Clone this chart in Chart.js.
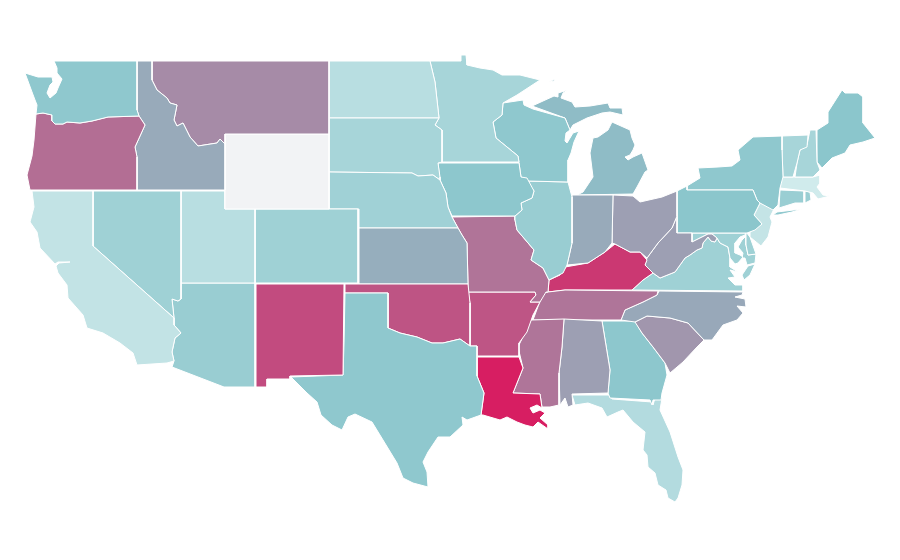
<!DOCTYPE html>
<html><head><meta charset="utf-8">
<script src="https://cdn.jsdelivr.net/npm/chart.js@4"></script>
<style>html,body{margin:0;background:#fff}canvas{display:block}</style></head>
<body><canvas id="c" width="900" height="560"></canvas>
<script>
// State outlines in map units, and each state's value on a 0-100 scale
const WA=[[54,61],[137,61],[137,110],[139,116],[108,117],[92,121],[80,123],[67,122],[63,124],[55,124],[52,121],[52,115],[43,113],[36,114],[37,105],[35,100],[32,92],[25,73],[38,77],[45,77],[52,77],[53,82],[50,85],[47,93],[50,98],[56,93],[58,88],[62,79],[57,73],[57,68]];
const OR=[[36,114],[43,113],[52,115],[52,121],[55,124],[63,124],[67,122],[80,123],[92,121],[108,117],[139,116],[145,125],[135,147],[137,157],[137,190],[30,190],[27,175],[32,156],[34,140]];
const ID=[[137,61],[152,61],[152,80],[157,90],[167,98],[170,103],[177,105],[174,120],[177,126],[183,123],[190,137],[198,146],[217,143],[220,139],[225,144],[225,190],[137,190],[137,157],[135,147],[145,125],[139,116],[137,110]];
const MT=[[152,61],[329,61],[329,134],[225,134],[225,144],[220,139],[217,143],[198,146],[190,137],[183,123],[177,126],[174,120],[177,105],[170,103],[167,98],[157,90],[152,80]];
const WY=[[225,134],[329,134],[329,209],[225,209]];
const CA=[[32,191],[93,191],[93,246],[174,318],[174,325],[181,333],[175,338],[172,352],[174,361],[167,363],[137,365],[133,353],[120,343],[103,333],[87,328],[83,315],[68,298],[67,285],[58,273],[56,266],[59,263],[70,262],[58,262],[55,264],[40,248],[37,232],[30,222],[34,207]];
const NV=[[93,191],[181,191],[181,283],[181,299],[178,301],[172,299],[174,318],[93,246]];
const UT=[[181,191],[225,191],[225,209],[255,209],[255,283],[181,283]];
const CO=[[255,209],[358,209],[358,283],[255,283]];
const AZ=[[181,283],[255,283],[255,387],[224,387],[172,367],[174,361],[172,352],[175,338],[181,333],[174,325],[174,318],[172,299],[178,301],[181,299]];
const NM=[[256,284],[344,284],[343,375],[290,376],[290,379],[267,379],[267,387],[256,387]];
const TX=[[345,293],[388,293],[388,328],[400,333],[417,337],[432,343],[443,343],[460,339],[470,346],[477,346],[477,376],[484,393],[481,415],[467,420],[462,417],[463,425],[450,437],[438,437],[428,452],[423,462],[427,472],[428,487],[413,483],[403,478],[397,463],[383,440],[372,422],[355,414],[348,417],[342,430],[332,425],[321,415],[317,402],[307,393],[291,377],[343,375],[344,343]];
const OK=[[345,284],[468,284],[470,303],[470,343],[470,346],[460,339],[443,343],[432,343],[417,337],[400,333],[388,328],[388,293],[345,293]];
const KS=[[359,228],[458,228],[462,235],[467,243],[468,284],[359,284]];
const NE=[[329,172],[412,173],[418,176],[433,175],[440,180],[446,193],[448,207],[452,217],[458,228],[359,228],[359,209],[329,209]];
const SD=[[329,118],[439,118],[435,125],[442,130],[442,162],[438,163],[440,177],[440,180],[433,175],[418,176],[412,173],[329,172]];
const ND=[[329,61],[430,61],[435,82],[437,100],[439,118],[329,118]];
const MN=[[430,61],[461,61],[461,55],[466,55],[467,65],[480,68],[493,70],[502,75],[520,75],[540,80],[517,95],[503,103],[502,115],[493,122],[496,138],[507,147],[518,156],[519,162],[442,162],[442,130],[435,125],[439,118],[437,100],[435,82]];
const IA=[[442,163],[519,163],[521,177],[527,178],[534,191],[532,198],[521,203],[522,210],[515,216],[452,216],[448,207],[446,193],[440,180],[438,163]];
const WI=[[503,103],[523,100],[524,105],[533,109],[565,118],[570,130],[566,133],[565,141],[567,143],[573,133],[579,131],[574,142],[571,153],[568,160],[568,182],[527,181],[521,177],[518,156],[507,147],[496,138],[493,122],[502,115]];
const IL=[[527,181],[568,182],[572,197],[572,243],[567,265],[563,273],[549,280],[543,268],[531,260],[534,250],[517,230],[515,220],[515,216],[522,210],[521,203],[532,198],[534,191]];
const IN=[[572,195],[613,195],[612,243],[605,252],[588,263],[567,265],[572,243]];
const OH=[[613,195],[633,196],[640,202],[662,197],[677,191],[677,216],[672,228],[658,243],[647,258],[640,252],[630,252],[615,244],[612,243]];
const MIL=[[577,195],[633,194],[637,187],[645,172],[648,170],[642,153],[633,157],[628,160],[625,157],[630,155],[633,150],[635,145],[632,138],[630,130],[612,122],[608,130],[598,137],[593,138],[590,153],[593,177],[583,192]];
const MIU=[[532,106],[554,96],[558,97],[558,93],[568,90],[563,93],[561,98],[572,102],[575,107],[590,106],[608,103],[610,108],[622,108],[623,115],[610,112],[602,113],[587,118],[573,125],[570,130],[565,118]];
const MIR=[[549,82],[555,79],[554,81]];
const MO=[[452,217],[515,216],[515,220],[517,230],[534,250],[531,260],[543,268],[549,280],[548,292],[546,292],[540,302],[530,302],[536,295],[535,292],[468,292],[468,284],[467,243],[462,235],[458,228]];
const AR=[[468,292],[535,292],[536,295],[530,302],[540,302],[533,315],[527,332],[519,343],[519,356],[477,356],[477,346],[470,346],[470,303]];
const LA=[[477,357],[519,357],[523,368],[513,393],[540,394],[542,408],[537,405],[530,408],[533,413],[540,410],[545,413],[540,418],[548,425],[548,429],[538,422],[533,427],[525,425],[517,422],[507,417],[500,420],[483,415],[481,415],[484,393],[477,376]];
const MS=[[531,320],[564,319],[562,347],[559,373],[559,405],[550,407],[542,407],[540,394],[513,393],[523,368],[518,347]];
const AL=[[564,319],[602,321],[610,370],[608,393],[572,394],[573,405],[568,407],[565,398],[560,405],[559,373],[562,347]];
const TN=[[533,320],[543,293],[548,292],[565,290],[658,291],[657,295],[643,302],[625,310],[621,320],[580,320]];
const KY=[[548,292],[549,280],[560,275],[565,267],[588,263],[605,252],[615,244],[630,252],[640,252],[647,260],[645,265],[653,273],[643,280],[632,290],[565,290]];
const WV=[[677,216],[677,233],[692,233],[692,242],[702,237],[708,234],[712,234],[717,238],[715,242],[711,241],[708,237],[703,243],[702,248],[697,250],[690,255],[685,258],[675,272],[660,278],[653,273],[645,265],[647,258],[658,243],[672,228]];
const PA=[[677,191],[687,186],[687,190],[753,190],[757,200],[760,203],[754,215],[762,224],[755,230],[747,233],[677,233]];
const NY=[[687,186],[700,178],[698,168],[718,167],[732,166],[740,160],[738,150],[753,137],[782,136],[782,150],[783,177],[780,188],[778,205],[773,210],[760,203],[757,200],[753,190],[687,190]];
const NYL=[[773,215],[777,212],[802,209],[792,212],[778,215]];
const VT=[[782,136],[808,135],[807,147],[800,150],[797,163],[793,177],[783,177],[782,150]];
const NH=[[810,130],[816,130],[817,162],[820,170],[813,177],[795,177],[797,163],[800,150],[807,145]];
const ME=[[817,130],[828,123],[828,112],[842,90],[845,93],[858,93],[863,97],[863,123],[875,138],[863,142],[850,145],[845,153],[832,158],[822,168],[817,162]];
const MA=[[782,177],[813,177],[820,175],[820,183],[817,187],[823,195],[830,196],[818,199],[813,193],[805,191],[780,188]];
const CT=[[780,190],[804,191],[804,203],[795,203],[779,208]];
const RI=[[805,191],[810,192],[811,200],[805,203]];
const NJ=[[760,203],[774,209],[770,217],[772,222],[768,237],[761,246],[750,237],[750,232],[762,224],[754,215]];
const DE=[[746,232],[750,237],[756,254],[748,255],[746,245]];
const MD=[[692,233],[746,233],[745,235],[740,237],[735,243],[735,253],[740,255],[743,257],[738,263],[735,264],[730,258],[728,247],[720,243],[717,238],[712,234],[708,234],[702,237],[692,242]];
const MDE=[[746,236],[746,245],[748,255],[756,254],[755,263],[747,265],[745,258],[742,258],[743,253],[738,247],[742,240]];
const VA=[[632,290],[643,280],[653,273],[660,278],[675,272],[685,258],[690,255],[697,250],[702,248],[703,243],[708,237],[711,241],[715,242],[717,238],[720,243],[728,247],[730,258],[730,267],[738,272],[730,270],[735,277],[728,278],[735,285],[743,285],[743,291]];
const VAE=[[755,264],[750,275],[744,280],[742,275],[748,266]];
const NC=[[659,291],[743,292],[742,295],[735,297],[745,299],[746,307],[737,306],[743,313],[737,320],[723,325],[712,340],[704,340],[688,323],[670,318],[647,316],[635,322],[621,320],[625,310],[643,302],[657,295]];
const SC=[[635,322],[647,316],[670,318],[688,323],[704,340],[697,347],[683,362],[670,373],[665,363],[653,347],[642,333]];
const GA=[[602,321],[635,321],[642,333],[653,347],[665,363],[667,375],[662,393],[661,400],[653,400],[652,405],[650,400],[610,398],[608,393],[610,370]];
const FL=[[572,395],[610,395],[612,399],[652,402],[653,405],[655,398],[662,398],[660,410],[670,432],[678,457],[683,470],[682,485],[678,498],[675,502],[668,498],[666,490],[658,485],[655,473],[648,467],[647,455],[643,450],[645,432],[633,422],[623,410],[618,412],[607,417],[602,408],[588,403],[575,405]];

const stateOutlines=[WA,OR,ID,MT,WY,CA,NV,UT,CO,AZ,NM,TX,OK,KS,NE,SD,ND,MN,IA,WI,IL,IN,OH,MIL,MIU,MIR,MO,AR,LA,MS,AL,TN,KY,WV,PA,NY,NYL,VT,NH,ME,MA,CT,RI,NJ,DE,MD,MDE,VA,VAE,NC,SC,GA,FL];
const stateNames=["Washington","Oregon","Idaho","Montana","Wyoming","California","Nevada","Utah","Colorado","Arizona","New Mexico","Texas","Oklahoma","Kansas","Nebraska","South Dakota","North Dakota","Minnesota","Iowa","Wisconsin","Illinois","Indiana","Ohio","Michigan","Michigan","Michigan","Missouri","Arkansas","Louisiana","Mississippi","Alabama","Tennessee","Kentucky","West Virginia","Pennsylvania","New York","New York","Vermont","New Hampshire","Maine","Massachusetts","Connecticut","Rhode Island","New Jersey","Delaware","Maryland","Maryland","Virginia","Virginia","North Carolina","South Carolina","Georgia","Florida"];
const stateValues=[38,71,50,60.7,null,14,30.6,18.8,30.6,33.4,83,38,80,48.4,30,26.8,18.8,26.8,39,38,33.4,50,53.7,43.5,43.5,43.5,68.8,79.6,99,68.4,53.7,68.4,90,53.7,40,38,38,26.8,26.8,40,7.5,33,33,13,30.6,30.6,30.6,30.6,30.6,50.5,57,39,21];

function rampColor(v){
  if(v===null) return '#f2f3f5';
  const low=[224,243,243],mid=[139,198,204],high=[216,27,96];
  const a=v<=40?low:mid,b=v<=40?mid:high,t=v<=40?v/40:(v-40)/60;
  return 'rgb('+a.map((c,i)=>Math.round(c+(b[i]-c)*t)).join(',')+')';
}
const datasets=stateOutlines.map((o,i)=>({
  label:stateNames[i],
  data:o.concat([o[0]]).map(p=>({x:p[0],y:p[1]})),
  showLine:true,fill:'shape',
  backgroundColor:rampColor(stateValues[i]),
  borderColor:'#ffffff',borderWidth:1,pointRadius:0,tension:0
}));
new Chart(document.getElementById('c'),{
  type:'scatter',
  data:{datasets},
  options:{responsive:false,animation:false,
    layout:{padding:0},
    plugins:{legend:{display:false},tooltip:{enabled:false},title:{display:false}},
    scales:{x:{type:'linear',min:0,max:900,display:false},y:{type:'linear',min:0,max:560,reverse:true,display:false}}
  }
});
</script></body></html>
